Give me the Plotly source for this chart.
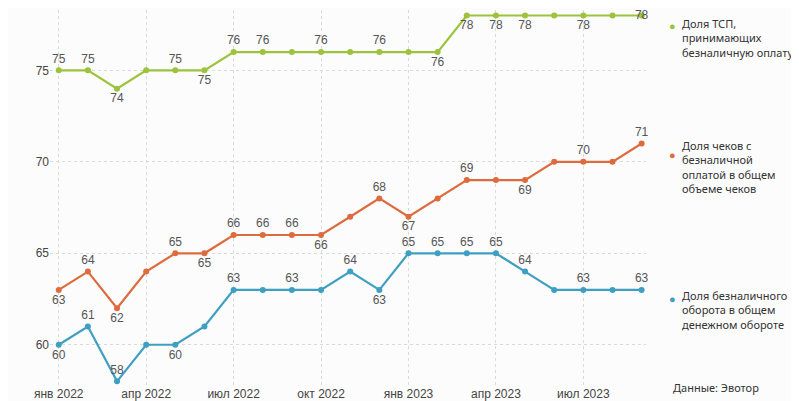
import plotly.graph_objects as go

months = list(range(21))
tick_vals = [0, 3, 6, 9, 12, 15, 18]
tick_text = ["янв 2022", "апр 2022", "июл 2022", "окт 2022", "янв 2023", "апр 2023", "июл 2023"]

tsp = [75, 75, 74, 75, 75, 75, 76, 76, 76, 76, 76, 76, 76, 76, 78, 78, 78, 78, 78, 78, 78]
tsp_lbl = ["t", "t", "b", "", "t", "b", "t", "t", "", "t", "", "t", "", "b", "b", "b", "b", "", "b", "", "m"]

checks = [63, 64, 62, 64, 65, 65, 66, 66, 66, 66, 67, 68, 67, 68, 69, 69, 69, 70, 70, 70, 71]
checks_lbl = ["b", "t", "b", "", "t", "b", "t", "t", "t", "b", "", "t", "b", "", "t", "", "b", "", "t", "", "t"]

turnover = [60, 61, 58, 60, 60, 61, 63, 63, 63, 63, 64, 63, 65, 65, 65, 65, 64, 63, 63, 63, 63]
turnover_lbl = ["b", "t", "t", "", "b", "", "t", "", "t", "", "t", "b", "t", "t", "t", "t", "t", "", "t", "", "t"]

names = [
    ["Доля ТСП,", "принимающих", "безналичную оплату"],
    ["Доля чеков с", "безналичной", "оплатой в общем", "объеме чеков"],
    ["Доля безналичного", "оборота в общем", "денежном обороте"],
]
source_text = "Данные: Эвотор"
colors = ["#9dc23c", "#dd6b3d", "#3e9fc0"]

pos_map = {"t": "top center", "b": "bottom center", "m": "middle center", "": "top center"}

# page has an 8px body margin; figure is offset by (8, 8)
OFF = 8
W, H = 799 - OFF, 401 - OFF
PL, PR, PT, PB = 50, 646, 10, 385  # plot area in page pixels
L, R, T, B = PL - OFF, W - (PR - OFF), PT - OFF, H - (PB - OFF)
PW, PH = PR - PL, PB - PT


def px(xp):
    return (xp - PL) / PW


def py(yp):
    return 1 - (yp - PT) / PH


fig = go.Figure()
for vals, lbl, col in [(tsp, tsp_lbl, colors[0]), (checks, checks_lbl, colors[1]), (turnover, turnover_lbl, colors[2])]:
    fig.add_trace(go.Scatter(
        x=months, y=vals, mode="lines+markers+text",
        line=dict(color=col, width=2.2),
        marker=dict(color=col, size=6),
        text=[str(v) if l else "" for v, l in zip(vals, lbl)],
        textposition=[pos_map[l] for l in lbl],
        textfont=dict(family="Liberation Sans, Arial", size=12, color="#555555"),
        cliponaxis=False,
        showlegend=False,
    ))

# legend-like annotations: (dot y px, text block centre y px)
legend_pos = [(25, 37.5), (154, 166.5), (298, 309.5)]
for lines, col, (dot_y, block_y) in zip(names, colors, legend_pos):
    fig.add_annotation(xref="paper", yref="paper", x=px(672), y=py(dot_y),
                       xanchor="center", yanchor="middle", showarrow=False,
                       text="●", font=dict(size=11, color=col))
    fig.add_annotation(xref="paper", yref="paper", x=px(681), y=py(block_y),
                       xanchor="left", yanchor="middle", showarrow=False, align="left",
                       text="<br>".join(lines), borderpad=0,
                       font=dict(family="Noto Sans", size=11, color="#333333"))

fig.add_annotation(xref="paper", yref="paper", x=px(671), y=py(387),
                   xanchor="left", yanchor="middle", showarrow=False,
                   text=source_text, font=dict(family="Noto Sans", size=11, color="#333333"))

fig.update_layout(
    width=W, height=H,
    margin=dict(l=L, r=R, t=T, b=B),
    paper_bgcolor="#fcfcfc", plot_bgcolor="#fcfcfc",
    xaxis=dict(range=[-0.3, 20.15], tickvals=tick_vals, ticktext=tick_text, automargin=False,
               showgrid=True, gridcolor="#dadada", griddash="dot", gridwidth=1,
               zeroline=False, showline=False, ticks="",
               tickfont=dict(family="Liberation Sans, Arial", size=12, color="#444444")),
    yaxis=dict(range=[57.8, 78.3], tickvals=[60, 65, 70, 75], automargin=False,
               showgrid=True, gridcolor="#dadada", griddash="dot", gridwidth=1,
               zeroline=False, showline=False, ticks="",
               tickfont=dict(family="Liberation Sans, Arial", size=12, color="#444444")),
)

fig.write_html("out.html")
